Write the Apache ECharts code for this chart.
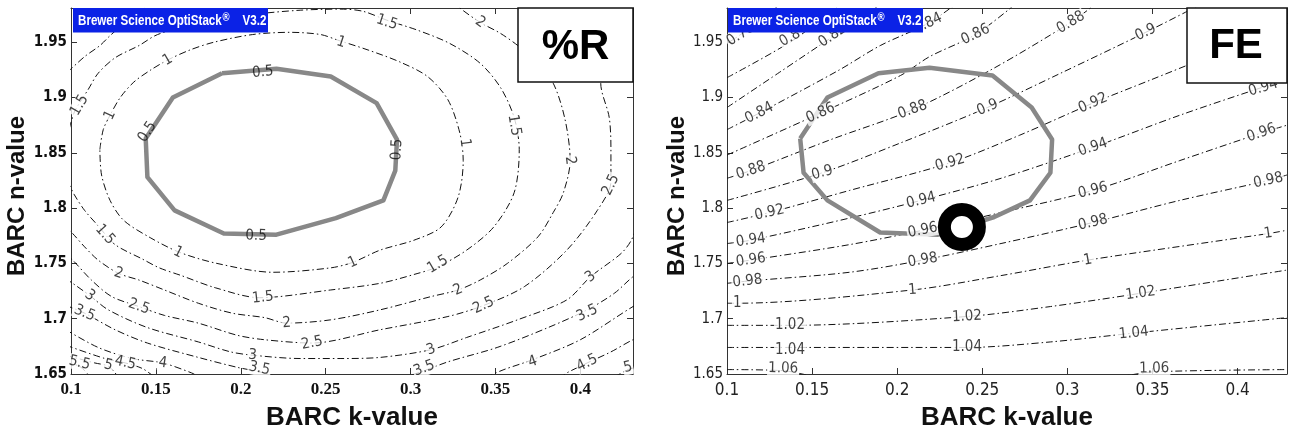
<!DOCTYPE html>
<html><head><meta charset="utf-8">
<script src="https://cdn.jsdelivr.net/npm/echarts@6/dist/echarts.min.js"></script>
<style>html,body{margin:0;padding:0;background:#fff}#c{width:1289px;height:433px}</style>
</head><body><div id="c"></div>
<script>
// ---------- axes ----------
const K_TICKS = [0.1, 0.15, 0.2, 0.25, 0.3, 0.35, 0.4];
const N_TICKS = [1.65, 1.7, 1.75, 1.8, 1.85, 1.9, 1.95];
const K_RANGE_R = [0.1, 0.431];
const K_RANGE_FE = [0.1, 0.429];
const N_RANGE = [1.65, 1.981];

// ---------- %R contours [k, n] ----------
const R_CONTOUR_05 = [[0.189,1.922],[0.221,1.926],[0.253,1.919],[0.280,1.895],[0.292,1.862],[0.291,1.834],[0.284,1.807],[0.256,1.791],[0.221,1.776],[0.190,1.777],[0.161,1.798],[0.145,1.828],[0.144,1.863],[0.160,1.900],[0.189,1.922]];
const R_CONTOUR_1 = [[0.117,1.853],[0.119,1.871],[0.123,1.884],[0.129,1.900],[0.137,1.914],[0.147,1.925],[0.157,1.934],[0.170,1.943],[0.184,1.950],[0.207,1.957],[0.229,1.959],[0.247,1.957],[0.257,1.952],[0.275,1.943],[0.294,1.932],[0.310,1.919],[0.322,1.898],[0.329,1.868],[0.331,1.843],[0.328,1.810],[0.318,1.783],[0.302,1.771],[0.282,1.762],[0.266,1.751],[0.253,1.746],[0.219,1.742],[0.186,1.750],[0.164,1.760],[0.147,1.773],[0.131,1.789],[0.123,1.807],[0.118,1.830],[0.117,1.853]];
const R_CONTOUR_15 = [[0.099,1.872],[0.102,1.887],[0.105,1.895],[0.110,1.907],[0.116,1.922],[0.126,1.936],[0.140,1.947],[0.151,1.957],[0.176,1.968],[0.206,1.975],[0.235,1.979],[0.259,1.980],[0.272,1.978],[0.286,1.970],[0.304,1.961],[0.323,1.949],[0.341,1.931],[0.353,1.909],[0.361,1.882],[0.364,1.853],[0.361,1.814],[0.349,1.783],[0.333,1.762],[0.316,1.747],[0.302,1.740],[0.282,1.732],[0.253,1.726],[0.211,1.719],[0.185,1.728],[0.165,1.739],[0.152,1.746],[0.142,1.754],[0.126,1.767],[0.116,1.784],[0.108,1.798],[0.102,1.812],[0.099,1.821]];
const R_CONTOUR_2 = [[0.098,1.923],[0.108,1.937],[0.117,1.947],[0.123,1.956],[0.132,1.968],[0.141,1.979],[0.147,1.986],[0.240,2.020],[0.326,1.986],[0.329,1.981],[0.341,1.968],[0.353,1.958],[0.364,1.946],[0.374,1.932],[0.384,1.913],[0.391,1.880],[0.394,1.843],[0.390,1.814],[0.384,1.796],[0.375,1.774],[0.357,1.750],[0.341,1.735],[0.328,1.726],[0.312,1.720],[0.282,1.708],[0.253,1.699],[0.227,1.696],[0.214,1.701],[0.195,1.705],[0.175,1.714],[0.155,1.726],[0.140,1.735],[0.128,1.741],[0.116,1.753],[0.108,1.765],[0.101,1.777],[0.097,1.783]];
const R_CONTOUR_25 = [[0.427,1.988],[0.415,1.938],[0.412,1.913],[0.417,1.882],[0.418,1.853],[0.418,1.824],[0.410,1.798],[0.392,1.762],[0.367,1.729],[0.343,1.712],[0.322,1.702],[0.282,1.690],[0.242,1.678],[0.214,1.681],[0.198,1.685],[0.175,1.696],[0.155,1.703],[0.140,1.711],[0.124,1.720],[0.112,1.735],[0.101,1.753],[0.097,1.758]];
const R_CONTOUR_3 = [[0.436,1.794],[0.430,1.771],[0.424,1.759],[0.406,1.738],[0.392,1.717],[0.363,1.699],[0.333,1.683],[0.312,1.672],[0.282,1.665],[0.259,1.664],[0.235,1.664],[0.207,1.667],[0.194,1.670],[0.175,1.679],[0.145,1.692],[0.122,1.708],[0.111,1.721],[0.101,1.732],[0.097,1.736]];
const R_CONTOUR_35 = [[0.097,1.712],[0.108,1.705],[0.126,1.690],[0.145,1.678],[0.175,1.665],[0.198,1.656],[0.211,1.652],[0.223,1.647],[0.259,1.635],[0.294,1.646],[0.308,1.653],[0.322,1.661],[0.351,1.674],[0.381,1.692],[0.404,1.708],[0.420,1.723],[0.431,1.738],[0.436,1.742]];
const R_CONTOUR_4 = [[0.097,1.690],[0.116,1.674],[0.136,1.664],[0.154,1.660],[0.171,1.651],[0.176,1.647],[0.259,1.600],[0.344,1.647],[0.355,1.654],[0.372,1.663],[0.400,1.681],[0.431,1.711],[0.436,1.714]];
const R_CONTOUR_45 = [[0.097,1.676],[0.120,1.664],[0.132,1.660],[0.142,1.655],[0.150,1.647],[0.235,1.590],[0.388,1.647],[0.392,1.651],[0.404,1.660],[0.418,1.670],[0.431,1.681],[0.436,1.683]];
const R_CONTOUR_5 = [[0.097,1.667],[0.114,1.660],[0.122,1.657],[0.129,1.647],[0.235,1.580],[0.419,1.647],[0.428,1.654],[0.436,1.657]];
const R_CONTOUR_55 = [[0.097,1.660],[0.105,1.657],[0.112,1.647],[0.120,1.640]];
const R_LEVELS = [0.5, 1, 1.5, 2, 2.5, 3, 3.5, 4, 4.5, 5, 5.5];

// contour labels [k, n, text]
const R_LABELS = [
 [0.213,1.923,'0.5'],[0.209,1.775,'0.5'],[0.145,1.869,'0.5'],[0.292,1.853,'0.5'],
 [0.157,1.934,'1'],[0.123,1.884,'1'],[0.259,1.950,'1'],[0.332,1.859,'1'],[0.266,1.751,'1'],[0.163,1.760,'1'],
 [0.105,1.893,'1.5'],[0.286,1.968,'1.5'],[0.361,1.875,'1.5'],[0.316,1.749,'1.5'],[0.213,1.719,'1.5'],[0.120,1.776,'1.5'],
 [0.341,1.968,'2'],[0.394,1.843,'2'],[0.328,1.726,'2'],[0.227,1.696,'2'],[0.128,1.741,'2'],
 [0.418,1.821,'2.5'],[0.343,1.712,'2.5'],[0.242,1.678,'2.5'],[0.140,1.711,'2.5'],
 [0.406,1.738,'3'],[0.312,1.672,'3'],[0.207,1.667,'3'],[0.111,1.721,'3'],
 [0.404,1.705,'3.5'],[0.308,1.655,'3.5'],[0.211,1.655,'3.5'],[0.108,1.705,'3.5'],
 [0.372,1.661,'4'],[0.154,1.660,'4'],
 [0.404,1.660,'4.5'],[0.132,1.660,'4.5'],
 [0.428,1.656,'5'],[0.122,1.658,'5'],
 [0.105,1.660,'5.5']
];

// ---------- FE contours [k, n] ----------
const FE_CONTOUR_TARGET = [[0.143,1.863],[0.145,1.832],[0.159,1.807],[0.190,1.778],[0.224,1.776],[0.257,1.792],[0.278,1.807],[0.290,1.832],[0.291,1.862],[0.279,1.891],[0.256,1.920],[0.219,1.927],[0.189,1.922],[0.159,1.900],[0.143,1.863]];
const FE_CONTOUR_078 = [[0.100,1.949],[0.108,1.957],[0.131,1.984]];
const FE_CONTOUR_080 = [[0.100,1.918],[0.139,1.952],[0.166,1.984]];
const FE_CONTOUR_082 = [[0.100,1.891],[0.131,1.923],[0.162,1.955],[0.190,1.984]];
const FE_CONTOUR_084 = [[0.100,1.871],[0.119,1.886],[0.166,1.925],[0.190,1.947],[0.218,1.967],[0.234,1.984]];
const FE_CONTOUR_086 = [[0.100,1.848],[0.155,1.886],[0.202,1.920],[0.219,1.937],[0.246,1.957],[0.269,1.984]];
const FE_CONTOUR_088 = [[0.100,1.827],[0.114,1.834],[0.161,1.862],[0.209,1.889],[0.255,1.925],[0.302,1.968],[0.316,1.984]];
const FE_CONTOUR_090 = [[0.100,1.807],[0.156,1.832],[0.202,1.859],[0.253,1.891],[0.296,1.922],[0.346,1.959],[0.378,1.984]];
const FE_CONTOUR_092 = [[0.100,1.787],[0.125,1.796],[0.172,1.816],[0.231,1.841],[0.272,1.866],[0.315,1.895],[0.349,1.916],[0.378,1.934],[0.434,1.970]];
const FE_CONTOUR_094 = [[0.100,1.768],[0.114,1.771],[0.172,1.791],[0.214,1.807],[0.261,1.827],[0.315,1.855],[0.366,1.884],[0.414,1.909],[0.429,1.916]];
const FE_CONTOUR_096 = [[0.100,1.750],[0.114,1.753],[0.172,1.767],[0.215,1.780],[0.261,1.796],[0.315,1.816],[0.366,1.843],[0.414,1.868],[0.429,1.875]];
const FE_CONTOUR_098 = [[0.100,1.732],[0.112,1.734],[0.172,1.742],[0.215,1.753],[0.261,1.768],[0.315,1.787],[0.366,1.807],[0.418,1.825],[0.429,1.830]];
const FE_CONTOUR_100 = [[0.100,1.714],[0.106,1.714],[0.209,1.726],[0.261,1.739],[0.312,1.753],[0.418,1.777],[0.429,1.780]];
const FE_CONTOUR_102 = [[0.100,1.694],[0.137,1.694],[0.241,1.702],[0.290,1.711],[0.343,1.723],[0.429,1.744]];
const FE_CONTOUR_104 = [[0.100,1.674],[0.137,1.674],[0.241,1.674],[0.290,1.679],[0.339,1.687],[0.429,1.701]];
const FE_CONTOUR_106 = [[0.100,1.654],[0.133,1.653],[0.152,1.648],[0.202,1.645],[0.290,1.645],[0.331,1.648],[0.351,1.652],[0.429,1.654]];
const FE_LEVELS = [0.78, 0.8, 0.82, 0.84, 0.86, 0.88, 0.9, 0.92, 0.94, 0.96, 0.98, 1, 1.02, 1.04, 1.06];
const FE_OPTIMUM = [0.238, 1.783];

const FE_LABELS = [
 [0.108,1.957,'0.78'],[0.137,1.954,'0.8'],[0.162,1.956,'0.82'],[0.218,1.967,'0.84'],[0.246,1.957,'0.86'],[0.302,1.968,'0.88'],[0.346,1.959,'0.9'],
 [0.119,1.886,'0.84'],[0.155,1.886,'0.86'],[0.209,1.889,'0.88'],[0.253,1.891,'0.9'],[0.315,1.895,'0.92'],[0.415,1.909,'0.94'],
 [0.114,1.834,'0.88'],[0.156,1.832,'0.9'],[0.231,1.841,'0.92'],[0.315,1.855,'0.94'],[0.414,1.868,'0.96'],
 [0.125,1.796,'0.92'],[0.214,1.807,'0.94'],[0.315,1.816,'0.96'],[0.418,1.825,'0.98'],
 [0.114,1.771,'0.94'],[0.215,1.780,'0.96'],[0.315,1.787,'0.98'],[0.418,1.777,'1'],
 [0.114,1.753,'0.96'],[0.215,1.753,'0.98'],[0.312,1.753,'1'],
 [0.112,1.734,'0.98'],[0.209,1.726,'1'],[0.343,1.723,'1.02'],
 [0.106,1.714,'1'],[0.241,1.702,'1.02'],[0.339,1.687,'1.04'],
 [0.137,1.694,'1.02'],[0.241,1.674,'1.04'],
 [0.137,1.672,'1.04'],[0.351,1.655,'1.06'],[0.133,1.655,'1.06']
];

// ---------- build ----------
const R_CONTOURS = [R_CONTOUR_05, R_CONTOUR_1, R_CONTOUR_15, R_CONTOUR_2, R_CONTOUR_25, R_CONTOUR_3, R_CONTOUR_35, R_CONTOUR_4, R_CONTOUR_45, R_CONTOUR_5, R_CONTOUR_55];
const FE_CONTOURS = [FE_CONTOUR_078, FE_CONTOUR_080, FE_CONTOUR_082, FE_CONTOUR_084, FE_CONTOUR_086, FE_CONTOUR_088, FE_CONTOUR_090, FE_CONTOUR_092, FE_CONTOUR_094, FE_CONTOUR_096, FE_CONTOUR_098, FE_CONTOUR_100, FE_CONTOUR_102, FE_CONTOUR_104, FE_CONTOUR_106];

const NARROW = "'Liberation Sans Narrow','Arial Narrow','DejaVu Sans Condensed',sans-serif";
const SANS = "'Liberation Sans',Arial,sans-serif";
const SERIF = "'Liberation Serif','Times New Roman',serif";
const DASHDOT = [7, 3, 1.5, 3];
const GRAY = '#888888';

function fmt(ticks) {
  return v => { for (const t of ticks) if (Math.abs(v - t) < 1e-6) return String(t); return ''; };
}
function xAxis(gi, range, pos, lab) {
  return {
    type: 'value', gridIndex: gi, position: pos, min: range[0], max: range[1], interval: 0.05,
    axisLine: { show: true, onZero: false, lineStyle: { color: '#333', width: 1 } },
    axisTick: { show: true, inside: true, length: 6, lineStyle: { color: '#333' } },
    splitLine: { show: false },
    axisLabel: pos === 'bottom' ? Object.assign({ show: true, margin: 8, formatter: fmt(K_TICKS), color: '#111' }, lab) : { show: false },
    name: pos === 'bottom' ? 'BARC k-value' : '', nameLocation: 'middle', nameGap: 31,
    nameTextStyle: { fontFamily: SANS, fontWeight: 'bold', fontSize: 26, color: '#111' }
  };
}
function yAxis(gi, pos, lab) {
  return {
    type: 'value', gridIndex: gi, position: pos, min: N_RANGE[0], max: N_RANGE[1], interval: 0.05,
    axisLine: { show: true, onZero: false, lineStyle: { color: '#333', width: 1 } },
    axisTick: { show: true, inside: true, length: 6, lineStyle: { color: '#333' } },
    splitLine: { show: false },
    axisLabel: pos === 'left' ? Object.assign({ show: true, margin: 4, formatter: fmt(N_TICKS), color: '#111' }, lab) : { show: false },
    name: pos === 'left' ? 'BARC n-value' : '', nameLocation: 'middle', nameGap: 38,
    nameTextStyle: { fontFamily: SANS, fontWeight: 'bold', fontSize: 24, color: '#111', padding: [0, 0, 0, -10] }
  };
}

const series = [];
function addContours(contours, levels, xi, yi, grayIdx) {
  contours.forEach((c, i) => {
    const gray = i === grayIdx;
    series.push({
      type: 'line', xAxisIndex: xi, yAxisIndex: yi, data: c, symbol: 'none', showSymbol: false,
      smooth: gray ? false : 0.3, clip: true, silent: true, animation: false, z: gray ? 3 : 2,
      lineStyle: gray ? { color: GRAY, width: 4.5, type: 'solid', join: 'round', opacity: 1 } : { color: '#111', width: 1, type: DASHDOT, opacity: 1 }
    });
  });
}
addContours(R_CONTOURS, R_LEVELS, 0, 0, 0);
addContours(FE_CONTOURS, FE_LEVELS, 2, 2, -1);
series.push({
  type: 'line', xAxisIndex: 2, yAxisIndex: 2, data: FE_CONTOUR_TARGET, symbol: 'none', smooth: false, clip: true, silent: true, animation: false, z: 3,
  lineStyle: { color: GRAY, width: 4.5, type: 'solid', join: 'round', opacity: 1 }
});
const R_LABEL_IDX = series.length;
series.push(null);
const FE_LABEL_IDX = series.length;
series.push(null);
series.push({
  type: 'scatter', xAxisIndex: 2, yAxisIndex: 2, data: [FE_OPTIMUM], symbol: 'circle', symbolSize: 35, silent: true, animation: false, z: 8,
  itemStyle: { color: '#fff', borderColor: '#000', borderWidth: 13, opacity: 1 }
});

function labelSeries(labels, xi, yi, rot) {
  return {
    type: 'scatter', xAxisIndex: xi, yAxisIndex: yi, symbolSize: 1, silent: true, animation: false, z: 6,
    itemStyle: { color: 'rgba(0,0,0,0)' },
    label: { show: true, position: 'inside', formatter: p => p.name, fontFamily: NARROW, fontSize: 15, color: '#111',
      backgroundColor: '#fff', padding: [0, 1], lineHeight: 15 },
    data: labels.map((l, i) => ({
      name: l[2], value: [l[0], l[1]],
      label: Object.assign({ rotate: rot ? rot[i] : 0 }, l[2] === '0.5' ? { backgroundColor: 'transparent' } : {})
    }))
  };
}
series[R_LABEL_IDX] = labelSeries(R_LABELS, 0, 0, null);
series[FE_LABEL_IDX] = labelSeries(FE_LABELS, 2, 2, null);

const brewer = (x) => ([
  { type: 'rect', x: x, y: 8, shape: { width: 195, height: 24.5 }, style: { fill: '#0b22e6' }, z: 100 },
  { type: 'text', x: x + 5, y: 20.5, scaleX: 0.8, z: 101,
    style: { text: '{a|Brewer Science OptiStack}{r|®}{a|    V3.2}', verticalAlign: 'middle', fill: '#fff',
      rich: { a: { fontFamily: SANS, fontWeight: 'bold', fontSize: 14.5, fill: '#fff', color: '#fff' },
              r: { fontFamily: SANS, fontWeight: 'bold', fontSize: 12, fill: '#fff', color: '#fff', verticalAlign: 'top', padding: [0, 0, 6, 1] } } } }
]);
const titleBox = (x, w, h, txt, cx, cy) => ([
  { type: 'rect', x: x, y: 8, shape: { width: w, height: h }, style: { fill: '#fff', stroke: '#111', lineWidth: 1.5 }, z: 100 },
  { type: 'text', x: cx, y: cy, z: 101, style: { text: txt, fontFamily: SANS, fontWeight: 'bold', fontSize: 42, fill: '#000', align: 'center', verticalAlign: 'middle' } }
]);

const option = {
  animation: false,
  backgroundColor: '#fff',
  grid: [
    { left: 71, top: 8, width: 562, height: 366, containLabel: false, outerBoundsMode: 'none' },
    { left: 727, top: 8, width: 560, height: 366, containLabel: false, outerBoundsMode: 'none' }
  ],
  xAxis: [
    xAxis(0, K_RANGE_R, 'bottom', { fontFamily: SERIF, fontWeight: 'bold', fontSize: 17, margin: 7 }),
    xAxis(0, K_RANGE_R, 'top', {}),
    xAxis(1, K_RANGE_FE, 'bottom', { fontFamily: NARROW, fontSize: 17, color: '#222' }),
    xAxis(1, K_RANGE_FE, 'top', {})
  ],
  yAxis: [
    yAxis(0, 'left', { fontFamily: NARROW, fontWeight: 'bold', fontSize: 15 }),
    yAxis(0, 'right', {}),
    yAxis(1, 'left', { fontFamily: NARROW, fontSize: 15, color: '#222' }),
    yAxis(1, 'right', {})
  ],
  series: series,
  graphic: [].concat(brewer(73), brewer(728),
    titleBox(518, 115, 74, '%R', 575.5, 47), titleBox(1187, 100, 75, 'FE', 1236, 46))
};

const chart = echarts.init(document.getElementById('c'), null, { renderer: 'canvas' });
chart.setOption(option);

// rotate contour labels along their contour (pixel space via the chart's own scales)
function rotations(labels, contours, levels, gi) {
  return labels.map(l => {
    const lv = parseFloat(l[2]);
    const idx = levels.findIndex(v => Math.abs(v - lv) < 1e-9);
    const pts = idx === -1 ? FE_CONTOUR_TARGET : contours[idx];
    const p = chart.convertToPixel({ gridIndex: gi }, [l[0], l[1]]);
    let best = Infinity, ang = 0;
    for (let i = 0; i < pts.length - 1; i++) {
      const a = chart.convertToPixel({ gridIndex: gi }, pts[i]);
      const b = chart.convertToPixel({ gridIndex: gi }, pts[i + 1]);
      const dx = b[0] - a[0], dy = b[1] - a[1];
      const L = dx * dx + dy * dy;
      let t = L ? ((p[0] - a[0]) * dx + (p[1] - a[1]) * dy) / L : 0;
      t = Math.max(0, Math.min(1, t));
      const ex = a[0] + t * dx - p[0], ey = a[1] + t * dy - p[1];
      const d = ex * ex + ey * ey;
      if (d < best) { best = d; ang = Math.atan2(-dy, dx) * 180 / Math.PI; }
    }
    if (ang > 90) ang -= 180;
    if (ang < -90) ang += 180;
    return ang;
  });
}
series[R_LABEL_IDX] = labelSeries(R_LABELS, 0, 0, rotations(R_LABELS, R_CONTOURS, R_LEVELS, 0));
series[FE_LABEL_IDX] = labelSeries(FE_LABELS, 2, 2, rotations(FE_LABELS, FE_CONTOURS, FE_LEVELS, 1));
chart.setOption({ series: series });
</script>
</body></html>
